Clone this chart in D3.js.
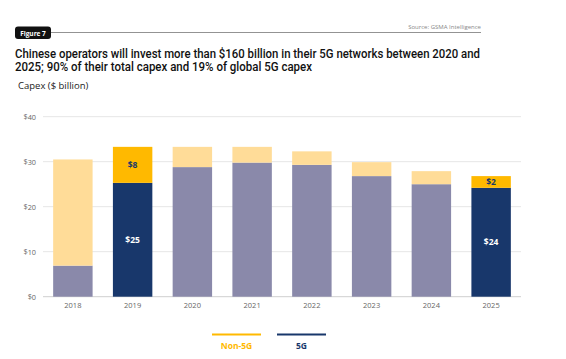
<!DOCTYPE html>
<html>
<head>
<meta charset="utf-8">
<script src="https://cdn.jsdelivr.net/npm/d3@7"></script>
<style>
  body { margin: 0; background: #fff; }
  svg { display: block; font-family: "Open Sans", "DejaVu Sans", sans-serif; }
</style>
</head>
<body>
<div id="chart"></div>
<script>
// data
const years = ["2018", "2019", "2020", "2021", "2022", "2023", "2024", "2025"];
const capex5G = [6.9, 25.3, 28.8, 29.8, 29.3, 26.8, 25.0, 24.2];
const capexNon5G = [23.6, 8.0, 4.5, 3.5, 3.0, 3.1, 2.9, 2.6];
const highlighted = ["2019", "2025"];
const labels5G = { "2019": "$25", "2025": "$24" };
const labelsNon5G = { "2019": "$8", "2025": "$2" };
const yTicks = [0, 10, 20, 30, 40];

const W = 566, H = 359;
const colors = {
  fiveG: "#18376b", fiveGMuted: "#8a89aa",
  non5G: "#ffb900", non5GMuted: "#ffdc98"
};

const svg = d3.select("#chart").append("svg")
  .attr("width", W).attr("height", H);

// header
const head = svg.append("g").attr("class", "header");
head.append("line")
  .attr("x1", 50).attr("x2", 481).attr("y1", 32.5).attr("y2", 32.5)
  .attr("stroke", "#777").attr("stroke-width", 0.8);
head.append("rect")
  .attr("x", 15).attr("y", 26.5).attr("width", 36).attr("height", 12.5)
  .attr("rx", 3).attr("fill", "#111");
head.append("text")
  .attr("x", 33).attr("y", 35.5).attr("text-anchor", "middle")
  .attr("fill", "#fff").attr("font-size", 6.5).attr("font-weight", 700)
  .text("Figure 7");
head.append("text")
  .attr("x", 481).attr("y", 29).attr("text-anchor", "end")
  .attr("fill", "#888").attr("font-size", 6)
  .text("Source: GSMA Intelligence");

// title (fitted to the reference widths)
const title = svg.append("text")
  .attr("fill", "#111").attr("font-size", 12).attr("font-weight", 500)
  .attr("font-family", "Roboto, sans-serif");
title.append("tspan").attr("x", 15).attr("y", 58)
  .attr("textLength", 465).attr("lengthAdjust", "spacingAndGlyphs")
  .text("Chinese operators will invest more than $160 billion in their 5G networks between 2020 and");
title.append("tspan").attr("x", 15).attr("y", 70.5)
  .attr("textLength", 297).attr("lengthAdjust", "spacingAndGlyphs")
  .text("2025; 90% of their total capex and 19% of global 5G capex");

svg.append("text")
  .attr("x", 18).attr("y", 89)
  .attr("fill", "#222").attr("font-size", 9.5)
  .text("Capex ($ billion)");

// scales
const x = d3.scaleBand().domain(years).range([43, 521]).paddingInner(0.34).paddingOuter(0.17);
const y = d3.scaleLinear().domain([0, 40]).range([296.7, 116.7]);

// grid + y labels
const grid = svg.append("g").attr("class", "grid");
grid.selectAll("line").data(yTicks).join("line")
  .attr("x1", 43).attr("x2", 521)
  .attr("y1", d => y(d)).attr("y2", d => y(d))
  .attr("stroke", d => d === 0 ? "#cfcfcf" : "#e6e6e6")
  .attr("stroke-width", 1);

const yAxis = d3.axisLeft(y).tickValues(yTicks).tickFormat(d => "$" + d).tickSize(0).tickPadding(0);
svg.append("g")
  .attr("transform", "translate(36,0)")
  .call(yAxis)
  .call(g => g.select(".domain").remove())
  .call(g => g.selectAll("text").attr("fill", "#666").attr("font-size", 7.3)
    .attr("font-family", "'Open Sans', sans-serif"));

// bars
const rows = years.map((yr, i) => ({ year: yr, g5: capex5G[i], non: capexNon5G[i], hi: highlighted.includes(yr) }));

const bars = svg.append("g").attr("class", "bars");
bars.selectAll(".b5g").data(rows).join("rect")
  .attr("class", "b5g")
  .attr("x", d => x(d.year)).attr("width", x.bandwidth())
  .attr("y", d => y(d.g5)).attr("height", d => y(0) - y(d.g5))
  .attr("fill", d => d.hi ? colors.fiveG : colors.fiveGMuted);
bars.selectAll(".bnon").data(rows).join("rect")
  .attr("class", "bnon")
  .attr("x", d => x(d.year)).attr("width", x.bandwidth())
  .attr("y", d => y(d.g5 + d.non)).attr("height", d => y(d.g5) - y(d.g5 + d.non))
  .attr("fill", d => d.hi ? colors.non5G : colors.non5GMuted);

// value labels
const hiRows = rows.filter(d => d.hi);
svg.append("g").selectAll("text").data(hiRows).join("text")
  .attr("x", d => x(d.year) + x.bandwidth() / 2)
  .attr("y", d => y(d.g5 / 2) + 3)
  .attr("text-anchor", "middle").attr("fill", "#fff")
  .attr("font-size", 8.5).attr("font-weight", 700)
  .text(d => labels5G[d.year]);
svg.append("g").selectAll("text").data(hiRows).join("text")
  .attr("x", d => x(d.year) + x.bandwidth() / 2)
  .attr("y", d => y(d.g5 + d.non / 2) + 3)
  .attr("text-anchor", "middle").attr("fill", colors.fiveG)
  .attr("font-size", 8.5).attr("font-weight", 700)
  .text(d => labelsNon5G[d.year]);

// x axis
const xAxis = d3.axisBottom(x).tickSize(0).tickPadding(0);
svg.append("g")
  .attr("transform", "translate(0,303)")
  .call(xAxis)
  .call(g => g.select(".domain").remove())
  .call(g => g.selectAll("text").attr("fill", "#666").attr("font-size", 7.5)
    .attr("font-family", "'Open Sans', sans-serif"));

// legend
const legendItems = [
  { name: "Non-5G", color: colors.non5G, x: 212 },
  { name: "5G", color: colors.fiveG, x: 277 }
];
const lg = svg.append("g").attr("class", "legend");
lg.selectAll("line").data(legendItems).join("line")
  .attr("x1", d => d.x).attr("x2", d => d.x + 49)
  .attr("y1", 334.5).attr("y2", 334.5)
  .attr("stroke", d => d.color).attr("stroke-width", 2);
lg.selectAll("text").data(legendItems).join("text")
  .attr("x", d => d.x + 24.5).attr("y", 349)
  .attr("text-anchor", "middle").attr("fill", d => d.color)
  .attr("font-size", 8.5).attr("font-weight", 700)
  .text(d => d.name);
</script>
</body>
</html>
